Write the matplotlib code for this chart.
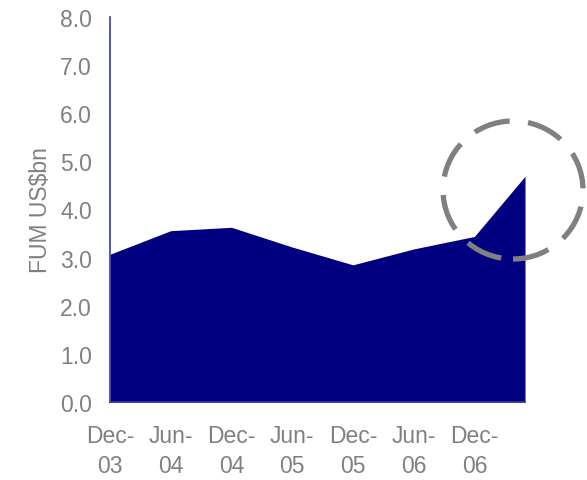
import matplotlib.pyplot as plt
from matplotlib.patches import Ellipse

plt.rcParams["font.family"] = ["Liberation Sans", "DejaVu Sans"]

# months since Dec-03
months = [0, 6, 12, 18, 24, 30, 36, 41]
fum = [3.07, 3.56, 3.63, 3.22, 2.85, 3.18, 3.44, 4.69]
tick_months = [0, 6, 12, 18, 24, 30, 36]
tick_labels = ["Dec-\n03", "Jun-\n04", "Dec-\n04", "Jun-\n05", "Dec-\n05", "Jun-\n06", "Dec-\n06"]

grey = "#808080"
fs = 16.5
fig = plt.figure(figsize=(5.87, 4.81), dpi=100)
ax = fig.add_axes([110 / 587, 1 - 403 / 481, 415 / 587, 385 / 481])

ax.fill_between(months, fum, 0, color="#000080", linewidth=0)
ax.set_xlim(0, 41)
ax.set_ylim(0, 8)
ax.set_yticks(range(0, 9))
ax.set_yticklabels([f"{v:.1f}" for v in range(0, 9)])
ax.set_xticks(tick_months)
ax.set_xticklabels(tick_labels, linespacing=1.38)
ax.tick_params(length=0, colors=grey, labelsize=fs)
ax.tick_params(axis="y", pad=13)
ax.tick_params(axis="x", pad=16)
ax.set_ylabel("FUM US$bn", color=grey, fontsize=fs, labelpad=6)

for s in ["top", "right"]:
    ax.spines[s].set_visible(False)
ax.spines["left"].set_color("#3a3aa8")
ax.spines["bottom"].set_color("#3a3aa8")
ax.spines["left"].set_linewidth(1.2)
ax.spines["bottom"].set_linewidth(1.2)

circ = Ellipse((513 / 587, 1 - 191 / 481), 140 / 587, 138 / 481,
               transform=fig.transFigure, fill=False, edgecolor=grey,
               linewidth=3.8, linestyle=(0, (7, 3.5)))
fig.add_artist(circ)

fig.savefig("out.png", dpi=100)
